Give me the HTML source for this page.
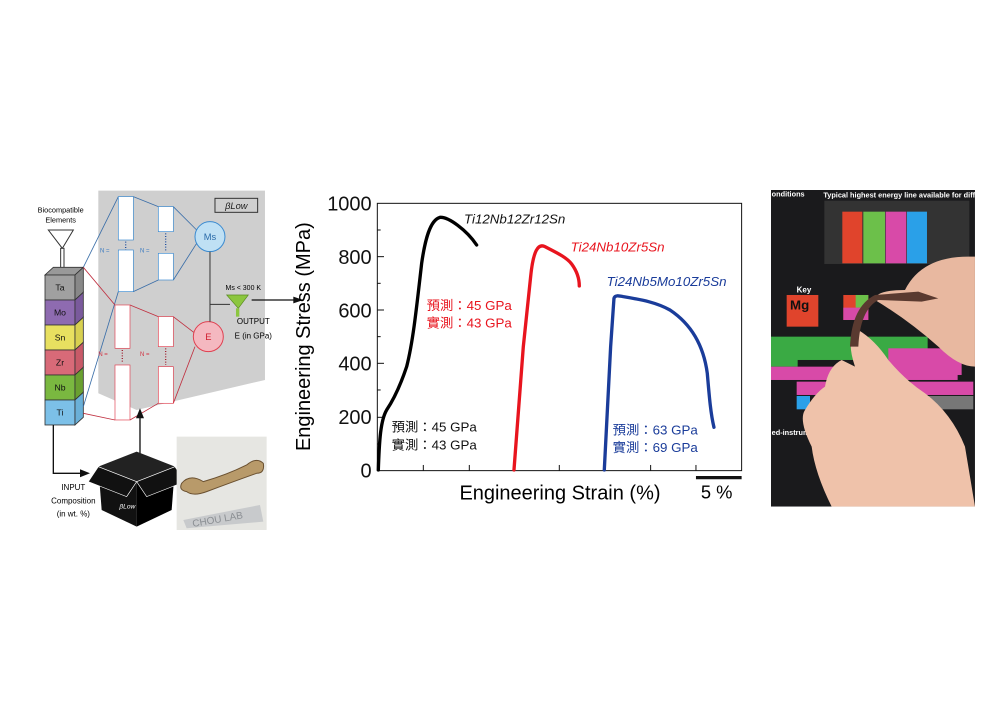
<!DOCTYPE html>
<html><head><meta charset="utf-8"><style>
body{margin:0;background:#fff;}
svg{display:block;font-family:"Liberation Sans","Noto Sans CJK TC",sans-serif;}
</style></head><body>
<svg width="1000" height="722" viewBox="0 0 1000 722">
<defs><clipPath id="pc"><rect x="18" y="30" width="612" height="950"/></clipPath></defs>
<rect width="1000" height="722" fill="#fff"/>
<g transform="translate(30,180) scale(0.3333)">
 <polygon points="205,32 705,32 705,600 320,690 205,640" fill="#cfcfcf"/>
 <rect x="555" y="55" width="128" height="42" fill="none" stroke="#333" stroke-width="3"/>
 <text x="619" y="87" font-size="28" text-anchor="middle" fill="#222" font-style="italic">βLow</text>
 <text x="92" y="97" font-size="22" text-anchor="middle">Biocompatible</text>
 <text x="92" y="127" font-size="22" text-anchor="middle">Elements</text>
 <polygon points="55,150 130,150 97,205" fill="#fff" stroke="#333" stroke-width="3"/>
 <rect x="92" y="205" width="10" height="60" fill="#fff" stroke="#333" stroke-width="3"/>
 <g stroke="#333" stroke-width="2.5">
  <polygon points="45,285 135,285 160,262 70,262" fill="#999"/>
  <rect x="45" y="285" width="90" height="75" fill="#a0a0a0"/><polygon points="135,285 160,262 160,337 135,360" fill="#888"/>
  <rect x="45" y="360" width="90" height="75" fill="#8e6bb0"/><polygon points="135,360 160,337 160,412 135,435" fill="#7a5a9c"/>
  <rect x="45" y="435" width="90" height="75" fill="#e8e060"/><polygon points="135,435 160,412 160,487 135,510" fill="#d8d050"/>
  <rect x="45" y="510" width="90" height="75" fill="#d86a78"/><polygon points="135,510 160,487 160,562 135,585" fill="#c85a68"/>
  <rect x="45" y="585" width="90" height="75" fill="#7ab840"/><polygon points="135,585 160,562 160,637 135,660" fill="#6aa030"/>
  <rect x="45" y="660" width="90" height="75" fill="#7cc0e8"/><polygon points="135,660 160,637 160,712 135,735" fill="#6ab0d8"/>
 </g>
 <g font-size="26" text-anchor="middle" fill="#111">
  <text x="90" y="332">Ta</text><text x="90" y="407">Mo</text><text x="90" y="482">Sn</text>
  <text x="90" y="557">Zr</text><text x="90" y="632">Nb</text><text x="90" y="707">Ti</text>
 </g>
 <g fill="none" stroke-width="2.5">
  <polyline points="160,262 265,50" stroke="#3a6ea8"/><polyline points="160,680 265,335" stroke="#3a6ea8"/>
  <polyline points="160,262 255,375" stroke="#c03040"/><polyline points="160,700 255,720" stroke="#c03040"/>
  <polyline points="310,50 385,80" stroke="#3a6ea8"/><polyline points="310,335 385,300" stroke="#3a6ea8"/>
  <polyline points="430,80 500,150" stroke="#3a6ea8"/><polyline points="430,300 500,190" stroke="#3a6ea8"/>
  <polyline points="300,375 385,410" stroke="#c03040"/><polyline points="300,720 385,670" stroke="#c03040"/>
  <polyline points="430,410 495,460" stroke="#c03040"/><polyline points="430,670 495,500" stroke="#c03040"/>
 </g>
 <g fill="#fff" stroke="#3a8ad0" stroke-width="2">
  <rect x="265" y="50" width="45" height="130"/><rect x="265" y="210" width="45" height="125"/>
  <rect x="385" y="80" width="45" height="75"/><rect x="385" y="220" width="45" height="80"/>
 </g>
 <g fill="#fff" stroke="#e04050" stroke-width="2">
  <rect x="255" y="375" width="45" height="130"/><rect x="255" y="555" width="45" height="165"/>
  <rect x="385" y="410" width="45" height="90"/><rect x="385" y="560" width="45" height="110"/>
 </g>
 <line x1="287" y1="185" x2="287" y2="210" stroke="#2050a0" stroke-width="4" stroke-dasharray="3,5"/>
 <line x1="407" y1="160" x2="407" y2="215" stroke="#2050a0" stroke-width="4" stroke-dasharray="3,5"/>
 <line x1="277" y1="510" x2="277" y2="550" stroke="#a02030" stroke-width="4" stroke-dasharray="3,5"/>
 <line x1="407" y1="505" x2="407" y2="555" stroke="#a02030" stroke-width="4" stroke-dasharray="3,5"/>
 <g font-size="18"><text x="210" y="218" fill="#3a7ac0">N =</text><text x="330" y="218" fill="#3a7ac0">N =</text>
 <text x="205" y="528" fill="#d03040">N =</text><text x="330" y="528" fill="#d03040">N =</text></g>
 <circle cx="540" cy="170" r="45" fill="#bfe0f4" stroke="#3a8ad0" stroke-width="3"/>
 <text x="540" y="180" font-size="28" text-anchor="middle" fill="#2a6aa8">Ms</text>
 <circle cx="535" cy="470" r="45" fill="#f4b8c0" stroke="#e04050" stroke-width="3"/>
 <text x="535" y="480" font-size="28" text-anchor="middle" fill="#d02030">E</text>
 <polyline points="540,215 540,425" stroke="#333" stroke-width="3"/>
 <line x1="540" y1="373" x2="600" y2="373" stroke="#333" stroke-width="3"/>
 <text x="640" y="330" font-size="21" text-anchor="middle">Ms &lt; 300 K</text>
 <polygon points="590,345 655,345 625,385" fill="#8cc63f" stroke="#5a8a20" stroke-width="2"/>
 <rect x="618" y="385" width="10" height="25" fill="#8cc63f"/>
 <line x1="665" y1="360" x2="800" y2="360" stroke="#111" stroke-width="4"/>
 <polygon points="790,350 820,360 790,370" fill="#111"/>
 <text x="670" y="432" font-size="24" text-anchor="middle">OUTPUT</text>
 <text x="670" y="475" font-size="24" text-anchor="middle">E (in GPa)</text>
 <polyline points="70,735 70,880 155,880" fill="none" stroke="#111" stroke-width="4"/>
 <polygon points="150,868 180,880 150,892" fill="#111"/>
 <line x1="330" y1="860" x2="330" y2="710" stroke="#111" stroke-width="4"/>
 <polygon points="318,715 330,685 342,715" fill="#111"/>
 <polygon points="205,860 320,815 435,860 320,905" fill="#222"/>
 <polygon points="205,860 320,905 320,1040 215,990" fill="#111"/>
 <polygon points="435,860 320,905 320,1040 425,990" fill="#000"/>
 <polygon points="205,860 175,905 290,950 320,905" fill="#111" stroke="#fff" stroke-width="2"/>
 <polygon points="435,860 465,905 350,950 320,905" fill="#111" stroke="#fff" stroke-width="2"/>
 <text x="268" y="985" font-size="20" fill="#fff" font-style="italic">βLow</text>
 <text x="130" y="930" font-size="24" text-anchor="middle">INPUT</text>
 <text x="130" y="970" font-size="24" text-anchor="middle">Composition</text>
 <text x="130" y="1010" font-size="24" text-anchor="middle">(in wt. %)</text>
 <rect x="440" y="770" width="270" height="280" fill="#e6e6e2"/>
 <polygon points="460,1020 690,975 700,1025 470,1045" fill="#c8cacc"/>
 <text x="485" y="1025" font-size="30" fill="#8a8e92" transform="rotate(-10 580 1010)">CHOU LAB</text>
 <path d="M455,910 Q480,880 520,905 Q590,885 650,855 Q680,830 700,850 Q705,880 680,880 Q610,905 530,935 Q490,950 470,935 Q445,930 455,910Z" fill="#b89a6a" stroke="#6a5030" stroke-width="3"/>
</g>

<g transform="translate(290,180) scale(0.3333)">
 <rect x="262" y="70" width="1093" height="802" fill="none" stroke="#111" stroke-width="3"/>
 <g stroke="#111" stroke-width="3">
  <line x1="262" y1="150" x2="272" y2="150"/><line x1="262" y1="230" x2="282" y2="230"/>
  <line x1="262" y1="310" x2="272" y2="310"/><line x1="262" y1="390" x2="282" y2="390"/>
  <line x1="262" y1="470" x2="272" y2="470"/><line x1="262" y1="550" x2="282" y2="550"/>
  <line x1="262" y1="630" x2="272" y2="630"/><line x1="262" y1="712" x2="282" y2="712"/>
  <line x1="262" y1="792" x2="272" y2="792"/>
  <line x1="400" y1="872" x2="400" y2="855"/><line x1="538" y1="872" x2="538" y2="855"/>
  <line x1="808" y1="872" x2="808" y2="855"/><line x1="1082" y1="872" x2="1082" y2="855"/>
  <line x1="1218" y1="872" x2="1218" y2="855"/>
 </g>
 <g font-size="60" text-anchor="end" fill="#111">
  <text x="245" y="92">1000</text><text x="245" y="252">800</text><text x="245" y="412">600</text>
  <text x="245" y="572">400</text><text x="245" y="732">200</text><text x="245" y="892">0</text>
 </g>
 <text transform="translate(60,470) rotate(-90)" font-size="60" text-anchor="middle">Engineering Stress (MPa)</text>
 <text x="810" y="958" font-size="60" text-anchor="middle">Engineering Strain (%)</text>
 <line x1="1218" y1="893" x2="1355" y2="893" stroke="#111" stroke-width="10"/>
 <text x="1280" y="955" font-size="55" text-anchor="middle">5 %</text>
 <g fill="none" stroke-width="10" stroke-linejoin="round" stroke-linecap="round">
  <path d="M265,870 C268,780 272,720 290,690 C310,660 330,620 350,560 C368,490 378,400 395,250 C405,180 420,120 450,112 C475,110 530,150 560,195" stroke="#000"/>
  <path d="M672,870 L700,500 L722,290 C730,210 745,190 765,200 C800,218 830,232 845,252 C862,275 868,300 868,318" stroke="#e8141e"/>
  <path d="M943,870 L962,500 L972,355 C975,345 985,347 1000,350 C1060,360 1100,368 1140,390 C1200,430 1240,490 1252,580 C1258,650 1262,700 1272,742" stroke="#1a3c9a"/>
 </g>
 <g font-size="40" font-style="italic">
  <text x="522" y="130" fill="#111">Ti12Nb12Zr12Sn</text>
  <text x="842" y="215" fill="#e8141e">Ti24Nb10Zr5Sn</text>
  <text x="950" y="318" fill="#1a3c9a">Ti24Nb5Mo10Zr5Sn</text>
 </g>
 <g font-size="40">
  <text x="410" y="390" fill="#e8141e">預測：45 GPa</text><text x="410" y="443" fill="#e8141e">實測：43 GPa</text>
  <text x="305" y="755" fill="#111">預測：45 GPa</text><text x="305" y="808" fill="#111">實測：43 GPa</text>
  <text x="968" y="763" fill="#1a3c9a">預測：63 GPa</text><text x="968" y="816" fill="#1a3c9a">實測：69 GPa</text>
 </g>
</g>

<g transform="translate(765,180) scale(0.3333)">
 <g clip-path="url(#pc)">
 <rect x="18" y="30" width="612" height="950" fill="#1a1a1c"/>
 <text x="20" y="50" font-size="22" fill="#fff" font-weight="bold">onditions</text>
 <text x="175" y="52" font-size="22" fill="#fff" font-weight="bold">Typical highest energy line available for different kV</text>
 <rect x="178" y="62" width="435" height="190" fill="#333"/>
 <rect x="232" y="95" width="60" height="155" fill="#e0442c"/>
 <rect x="295" y="95" width="65" height="155" fill="#6cc04a"/>
 <rect x="362" y="95" width="62" height="155" fill="#d84aa8"/>
 <rect x="426" y="95" width="60" height="155" fill="#2aa0e8"/>
 <rect x="65" y="345" width="95" height="95" fill="#e0442c"/>
 <text x="75" y="388" font-size="40" fill="#111" font-weight="bold">Mg</text>
 <text x="95" y="338" font-size="24" fill="#fff" font-weight="bold">Key</text>
 <rect x="235" y="345" width="75" height="75" fill="#e0442c"/>
 <rect x="272" y="345" width="38" height="38" fill="#6cc04a"/>
 <rect x="235" y="383" width="75" height="37" fill="#d84aa8"/>
 <rect x="18" y="470" width="470" height="70" fill="#3aaa44"/>
 <rect x="18" y="505" width="80" height="55" fill="#3aaa44"/>
 <rect x="370" y="505" width="220" height="80" fill="#d84aa8"/>
 <rect x="18" y="560" width="560" height="40" fill="#d84aa8"/>
 <rect x="95" y="605" width="530" height="40" fill="#d84aa8"/>
 <rect x="95" y="648" width="40" height="40" fill="#2aa0e8"/>
 <rect x="430" y="648" width="195" height="40" fill="#777"/>
 <text x="20" y="765" font-size="22" fill="#fff" font-weight="bold">ed-instrum</text>
 <path d="M420,330 Q470,230 610,230 L630,230 L630,560 Q580,560 520,500 Q430,420 330,360 Q330,330 420,330Z" fill="#e8b8a0"/>
 <path d="M270,560 Q240,470 280,450 Q330,480 370,540 Q420,600 480,640 Q560,700 600,800 L630,980 L200,980 Q150,880 140,800 Q100,720 120,690 Q150,640 180,620 Q190,560 230,540Z" fill="#efc2aa"/>
 <path d="M255,500 Q260,380 330,345 L460,335 L520,355 L470,365 L340,360 Q285,390 280,500Z" fill="#5a3a30"/>
 </g>
</g>
</svg>
</body></html>
